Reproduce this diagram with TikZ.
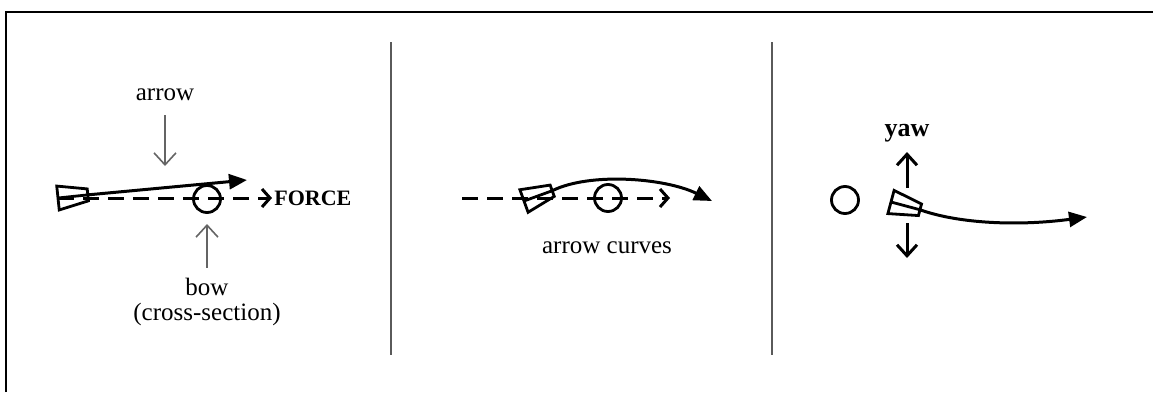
\documentclass[tikz,border=0pt]{standalone}
\usepackage{fontspec}
\setmainfont{Liberation Serif}
\usetikzlibrary{arrows.meta,positioning}
\definecolor{pointerGray}{RGB}{100,100,100}
\definecolor{dividerGray}{RGB}{90,90,90}
\tikzset{
  shaft/.style={line width=1.5pt, -{Triangle[length=9pt,width=7.5pt]}},
  forceline/.style={line width=1.5pt, dash pattern=on 8pt off 4.5pt, -{Straight Barb[length=4pt,width=9pt]}},
  pointer/.style={pointerGray, line width=0.8pt, -{Straight Barb[length=6pt,width=11pt]}},
  yawarrow/.style={line width=1.5pt, -{Straight Barb[length=5.5pt,width=10pt]}},
  bowsec/.style={circle, draw, line width=1.4pt, minimum size=13.5pt, inner sep=0pt},
  lbl/.style={font=\fontsize{12.5}{12.5}\selectfont, inner sep=1pt},
  divider/.style={dividerGray, line width=1.1pt},
  fletch/.pic={
    \draw[line width=1.4pt] (0,-12) -- (30,-6) -- (30,6) -- (0,12) -- cycle (0,0) -- (30,0);
    \coordinate (-end) at (30,0);
  }
}
\begin{document}
\begin{tikzpicture}[x=0.5pt,y=-0.5pt]
    \useasboundingbox (0,0) rectangle (1153,392);

    % frame and dividers
    \draw[line width=1pt] (6,392) -- (6,12) -- (1153,12);
    \draw[divider] (391,42) -- (391,355);
    \draw[divider] (772,42) -- (772,355);

    % left panel: arrow at rest on the bow
    \node[bowsec] (bowA) at (207,199) {};
    \node[font=\bfseries\fontsize{11}{11}\selectfont, anchor=west, inner sep=1pt] (force) at (272,198) {FORCE};
    \coordinate (dashA) at (58,198);
    \draw[forceline] (dashA) -- (force.west);
    \pic (flA) at (58,198) [rotate=6] {fletch};
    \coordinate (tipA) at (247,180);
    \draw[shaft] (flA-end) -- (tipA);

    % left panel labels
    \node[lbl] (arrowLbl) at (165,95) {arrow};
    \coordinate (arrowPt) at (165,166);
    \draw[pointer] (arrowLbl.south) ++(0,12) coordinate (arrowTop) -- (arrowPt);
    \node[lbl, align=center] (bowLbl) at (207,302) {bow\\(cross-section)};
    \coordinate (bowPt) at (207,224);
    \draw[pointer] (bowLbl.north) ++(0,-8) coordinate (bowBot) -- (bowPt);

    % middle panel: arrow curves
    \node[bowsec] (bowB) at (608,198) {};
    \coordinate (dashB) at (462,198);
    \coordinate (dashBtip) at (670,198);
    \draw[forceline] (dashB) -- (dashBtip);
    \pic (flB) at (524,201) [rotate=20] {fletch};
    \coordinate (tipB) at (712,201);
    \draw[shaft] (flB-end) .. controls (590,172) and (665,178) .. (tipB);
    \node[lbl] (curveLbl) at (607,248) {arrow curves};

    % right panel: yaw
    \node[bowsec] (bowC) at (845,200) {};
    \pic (flC) at (891,202) [rotate=-15] {fletch};
    \coordinate (tipC) at (1087,217);
    \draw[shaft] (flC-end) .. controls (960,224) and (1020,226) .. (tipC);
    \node[font=\bfseries\fontsize{13}{13}\selectfont, inner sep=1pt] (yawLbl) at (907,133) {yaw};
    \coordinate (yawUpA) at (907,188);
    \coordinate (yawUpB) at (907,152);
    \coordinate (yawDnA) at (907,223);
    \coordinate (yawDnB) at (907,258);
    \draw[yawarrow] (yawUpA) -- (yawUpB);
    \draw[yawarrow] (yawDnA) -- (yawDnB);
\end{tikzpicture}
\end{document}
